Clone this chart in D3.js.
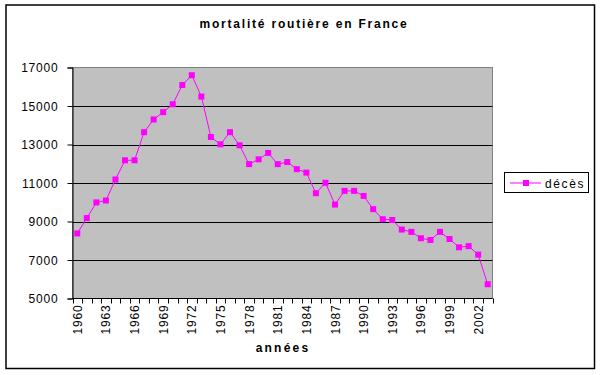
<!DOCTYPE html>
<html>
<head>
<meta charset="utf-8">
<script src="https://cdn.jsdelivr.net/npm/d3@7"></script>
<style>
  body { margin: 0; background: #fff; }
  text { font-family: Arial, "Liberation Sans", sans-serif; fill: #000; }
</style>
</head>
<body>
<svg id="chart" width="601" height="375"></svg>
<script>
var years = d3.range(1960, 2004);
var deces = [8380, 9180, 9990, 10090, 11180, 12180, 12180, 13640, 14300, 14680,
  15090, 16090, 16600, 15490, 13390, 13010, 13640, 12960, 11980, 12230,
  12560, 11980, 12090, 11720, 11540, 10470, 11010, 9880, 10590, 10590,
  10330, 9640, 9120, 9080, 8580, 8460, 8130, 8040, 8460, 8090,
  7660, 7720, 7280, 5740];
var yTicks = [5000, 7000, 9000, 11000, 13000, 15000, 17000];
var xLabelStep = 3;

var svg = d3.select('#chart');
var plot = { left: 72.5, top: 67.5, right: 492.5, bottom: 298.5 };

// outer frame
svg.append('rect')
  .attr('x', 6).attr('y', 5).attr('width', 588.5).attr('height', 363.5)
  .attr('fill', 'none').attr('stroke', '#000').attr('stroke-width', 1.5);

var x = d3.scaleBand().domain(years).range([plot.left, plot.right]);
var y = d3.scaleLinear().domain([5000, 17000]).range([plot.bottom, plot.top]);

svg.append('rect')
  .attr('x', plot.left).attr('y', plot.top)
  .attr('width', plot.right - plot.left).attr('height', plot.bottom - plot.top)
  .attr('fill', '#c0c0c0').attr('stroke', '#808080');

// gridlines
svg.append('g').selectAll('line')
  .data(yTicks.slice(1, -1))
  .join('line')
  .attr('x1', plot.left).attr('x2', plot.right)
  .attr('y1', function(d) { return Math.round(y(d)) + 0.5; })
  .attr('y2', function(d) { return Math.round(y(d)) + 0.5; })
  .attr('stroke', '#000');

// y axis
var yAxis = svg.append('g')
  .attr('transform', 'translate(' + plot.left + ',0)')
  .call(d3.axisLeft(y).tickValues(yTicks).tickSize(5).tickPadding(9).tickFormat(d3.format('d')));
yAxis.select('.domain').attr('stroke', '#000');
yAxis.selectAll('text')
  .style('font-size', '12px').style('letter-spacing', '0.8px')
  .attr('dy', '0.35em');

// x axis, ticks between categories
var xAxis = svg.append('g')
  .attr('transform', 'translate(0,' + plot.bottom + ')');
xAxis.append('line')
  .attr('x1', plot.left).attr('x2', plot.right)
  .attr('stroke', '#000');
xAxis.selectAll('line.tick')
  .data(years.concat([2004]))
  .join('line')
  .attr('class', 'tick')
  .attr('x1', function(d) { return Math.round(plot.left + (d - 1960) * x.step()) + 0.5; })
  .attr('x2', function(d) { return Math.round(plot.left + (d - 1960) * x.step()) + 0.5; })
  .attr('y1', 0).attr('y2', 5)
  .attr('stroke', '#000');
xAxis.selectAll('text')
  .data(years.filter(function(d, i) { return i % xLabelStep === 0; }))
  .join('text')
  .attr('transform', function(d) {
    return 'translate(' + (x(d) + x.bandwidth() / 2 + 4.5) + ',6) rotate(-90)';
  })
  .attr('text-anchor', 'end')
  .style('font-size', '12px').style('letter-spacing', '0.8px')
  .text(function(d) { return d; });

// series
var line = d3.line()
  .x(function(d, i) { return x(years[i]) + x.bandwidth() / 2; })
  .y(function(d) { return y(d); });

svg.append('path')
  .datum(deces)
  .attr('d', line)
  .attr('fill', 'none')
  .attr('stroke', '#ff00ff')
  .attr('stroke-width', 1);

svg.append('g').selectAll('rect')
  .data(deces)
  .join('rect')
  .attr('x', function(d, i) { return x(years[i]) + x.bandwidth() / 2 - 3; })
  .attr('y', function(d) { return y(d) - 3; })
  .attr('width', 6).attr('height', 6)
  .attr('fill', '#ff00ff');

// title
svg.append('text')
  .attr('x', 304).attr('y', 28)
  .attr('text-anchor', 'middle')
  .style('font-size', '12px').style('font-weight', 'bold').style('letter-spacing', '1.8px')
  .text('mortalité routière en France');

svg.append('text')
  .attr('x', 283).attr('y', 352)
  .attr('text-anchor', 'middle')
  .style('font-size', '12px').style('font-weight', 'bold').style('letter-spacing', '2.2px')
  .text('années');

// legend
var legend = svg.append('g');
legend.append('rect')
  .attr('x', 504.5).attr('y', 172.5).attr('width', 84).attr('height', 20)
  .attr('fill', '#fff').attr('stroke', '#000');
legend.append('line')
  .attr('x1', 510).attr('x2', 541).attr('y1', 183).attr('y2', 183)
  .attr('stroke', '#ff00ff');
legend.append('rect')
  .attr('x', 523).attr('y', 180).attr('width', 6).attr('height', 6)
  .attr('fill', '#ff00ff');
legend.append('text')
  .attr('x', 545).attr('y', 187.5)
  .style('font-size', '12px').style('letter-spacing', '1.6px')
  .text('décès');
</script>
</body>
</html>
